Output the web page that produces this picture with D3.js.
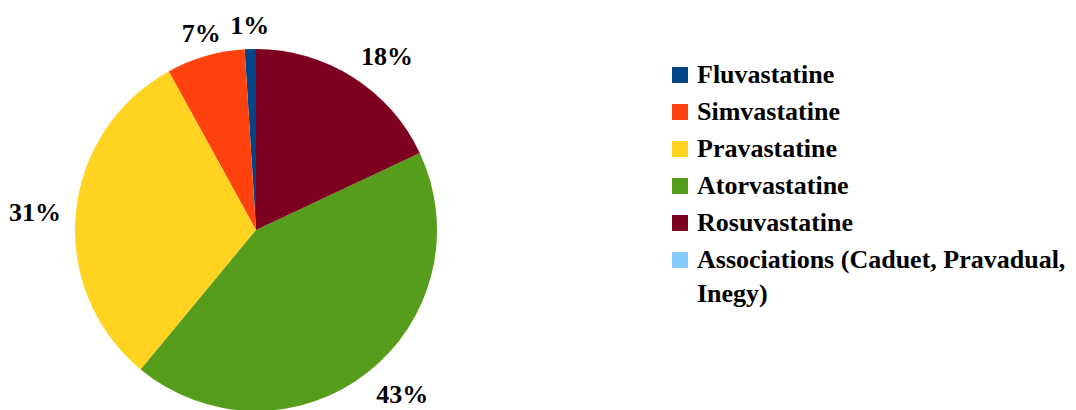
<!DOCTYPE html>
<html>
<head>
<meta charset="utf-8">
<script src="https://cdn.jsdelivr.net/npm/d3@7"></script>
<style>
  body { margin: 0; background: #fff; }
  text { font-family: "Liberation Serif", "Times New Roman", serif; font-weight: bold; fill: #000; }
</style>
</head>
<body>
<div id="chart"></div>
<script>
// Data
const drugs = ["Fluvastatine", "Simvastatine", "Pravastatine", "Atorvastatine", "Rosuvastatine", "Associations (Caduet, Pravadual, Inegy)"];
const shares = [1, 7, 31, 43, 18, 0];
const colors = ["#004586", "#ff420e", "#ffd320", "#579d1c", "#7e0021", "#83caff"];

const width = 1076, height = 410;
const cx = 256, cy = 230, radius = 181;
const fontSize = 26;

let svg = d3.select("#chart")
  .append("svg")
  .attr("width", width)
  .attr("height", height);

let rows = drugs.map((d, i) => ({ name: d, value: shares[i], color: colors[i] }));

// slices go counter-clockwise from 12 o'clock
let pie = d3.pie()
  .sort(null)
  .value(d => d.value)
  .startAngle(0)
  .endAngle(-2 * Math.PI);

let arc = d3.arc().innerRadius(0).outerRadius(radius);

let g = svg.append("g")
  .attr("transform", "translate(" + cx + "," + cy + ")");

let arcs = pie(rows);

g.selectAll("path")
  .data(arcs)
  .enter()
  .append("path")
  .attr("d", arc)
  .style("fill", d => d.data.color);

// percentage labels: the label box touches a ring around the pie
let labelR = 196;
let capH = 18;
const side = u => Math.sign(u) * Math.min(1, Math.max(0, (Math.abs(u) - 0.3) / 0.2));

g.selectAll(".lbl")
  .data(arcs.filter(d => d.data.value > 0))
  .enter()
  .append("text")
  .attr("class", "lbl")
  .attr("font-size", fontSize)
  .attr("text-anchor", "middle")
  .text(d => d.data.value + "%")
  .each(function (d) {
    let a = (d.startAngle + d.endAngle) / 2;
    let ux = Math.sin(a), uy = -Math.cos(a);
    let w = this.getComputedTextLength();
    let x = ux * labelR + side(ux) * w / 2;
    let y = uy * labelR + side(uy) * capH / 2 + capH / 2;
    d3.select(this).attr("x", x).attr("y", y);
  });

// Legend
let legend = svg.append("g")
  .attr("transform", "translate(672,83)");

let step = 37;
let item = legend.selectAll(".item")
  .data(rows)
  .enter()
  .append("g")
  .attr("class", "item")
  .attr("transform", (d, i) => "translate(0," + i * step + ")");

item.append("rect")
  .attr("x", 0)
  .attr("y", -16)
  .attr("width", 16)
  .attr("height", 16)
  .style("fill", d => d.color);

item.append("text")
  .attr("x", 25)
  .attr("y", 0)
  .attr("font-size", fontSize)
  .each(function (d) {
    let t = d3.select(this);
    let words = d.name.split(" ");
    let line = [];
    let tspan = t.append("tspan").attr("x", 25).attr("dy", 0);
    words.forEach(w => {
      line.push(w);
      tspan.text(line.join(" "));
      if (tspan.node().getComputedTextLength() > 380 && line.length > 1) {
        line.pop();
        tspan.text(line.join(" "));
        line = [w];
        tspan = t.append("tspan").attr("x", 25).attr("dy", 34).text(w);
      }
    });
  });
</script>
</body>
</html>
